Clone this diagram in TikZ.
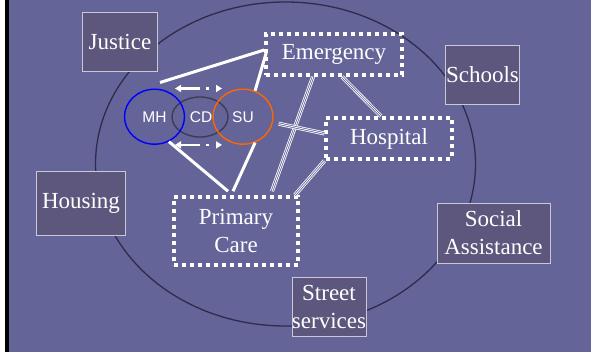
\documentclass[tikz,border=0pt]{standalone}
\usepackage{fontspec}
\setmainfont{Liberation Serif}
\setsansfont{Liberation Sans}
\usetikzlibrary{shapes.geometric,arrows.meta}

\definecolor{slidebg}{RGB}{100,100,153}
\definecolor{boxfill}{RGB}{93,87,125}
\definecolor{boxline}{RGB}{200,200,215}
\definecolor{ringline}{RGB}{45,45,75}
\definecolor{mhblue}{RGB}{0,0,255}
\definecolor{suorange}{RGB}{255,102,0}
\definecolor{cdgray}{RGB}{60,60,85}

\tikzset{
  sector/.style={draw=boxline, line width=0.8pt, fill=boxfill, text=white, inner sep=0pt, align=center, font=\fontsize{23}{28}\selectfont},
  service/.style={draw=white, line width=3.6pt, dash pattern=on 4pt off 4pt, fill=slidebg, text=white, inner sep=0pt, align=center, font=\fontsize{23}{28}\selectfont},
  need/.style={ellipse, line width=1.4pt, minimum width=60pt, minimum height=55pt, inner sep=0pt, text=white, font=\sffamily\fontsize{15.5}{18}\selectfont},
  link/.style={white, line width=3pt},
  triple/.style={white, line width=4pt, postaction={draw=slidebg, line width=2.4pt}, postaction={draw=white, line width=0.8pt}},
  flow/.style={white, line width=2.2pt, {Triangle[length=6pt,width=7pt]}-{Triangle[length=6pt,width=7pt]}, dash pattern=on 19pt off 6pt on 3pt off 20pt}
}

\begin{document}
\begin{tikzpicture}[x=1pt,y=-1pt]
\useasboundingbox (0,0) rectangle (591,352);

%Shape: Background
\fill[slidebg] (0,0) rectangle (591,352);
\fill[white] (0,0) rectangle (5,352);
\fill[black] (5,0) rectangle (9,352);

%Shape: Ellipse
\draw[ringline, line width=1.3pt] (285.5,164) ellipse [x radius=190, y radius=162];

%Shape: Sector boxes
\node[sector, minimum width=74.5pt, minimum height=59pt] (justice) at (120,42.4) {Justice};
\node[sector, minimum width=74pt, minimum height=59pt] (schools) at (482.5,74.5) {Schools};
\node[sector, minimum width=88.5pt, minimum height=64pt] (housing) at (81,203) {Housing};
\node[sector, minimum width=113pt, minimum height=60pt] (social) at (493.5,233) {Social\\Assistance};
\node[sector, minimum width=73.5pt, minimum height=59pt] (street) at (329,306.5) {Street\\services};

%Shape: Service boxes
\node[service, minimum width=136pt, minimum height=41pt] (emergency) at (334,54.5) {Emergency};
\node[service, minimum width=125.5pt, minimum height=41pt] (hospital) at (389,138.5) {Hospital};
\node[service, minimum width=124pt, minimum height=68pt] (primary) at (236,231) {Primary\\Care};

%Shape: Circles
\node[need, draw=cdgray, minimum width=56pt, minimum height=40pt] (cd) at (200,117) {};
\node[need, draw=mhblue] (mh) at (154.5,116.7) {MH};
\node[need, draw=suorange] (su) at (243,116.7) {SU};
\node[text=white, font=\sffamily\fontsize{15.5}{18}\selectfont] (cdlabel) at (201,117.5) {CD};

%Straight Lines
\draw[link] ([xshift=5.5pt,yshift=6pt]mh.north) -- ([yshift=4.5pt]emergency.west);
\draw[link] (su.65) -- ([xshift=2pt,yshift=1.5pt]emergency.west);
\draw[link] (mh.-60) -- ([xshift=-8pt,yshift=4pt]primary.north);
\draw[link] (su.-65) -- ([xshift=-3pt,yshift=4pt]primary.north);

%Triple Lines
\draw[triple] ([xshift=-21pt]emergency.south) -- ([xshift=36pt,yshift=4pt]primary.north);
\draw[triple] ([xshift=8pt]emergency.south) -- ([xshift=-8pt]hospital.north);
\draw[triple] ([xshift=5pt,yshift=-7pt]su.east) -- ([yshift=5pt]hospital.west);
\draw[triple] (hospital.south west) -- ([xshift=-5pt]primary.north east);

%Arrows
\draw[flow] ([xshift=20.5pt]mh.north) -- ([xshift=-21pt]su.north);
\draw[flow] ([xshift=20.5pt]mh.south) -- ([xshift=-21pt]su.south);

\end{tikzpicture}
\end{document}
